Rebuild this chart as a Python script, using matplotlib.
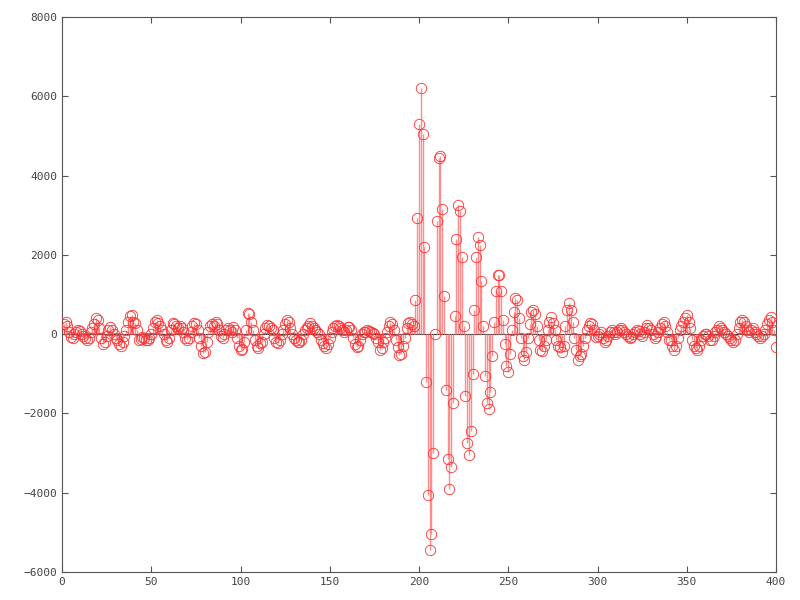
import numpy as np
import matplotlib
matplotlib.use('Agg')
import matplotlib.pyplot as plt

# sample values (index 1..400)
values = [
    250, 300, 200, 50, -80, -100, 0, 50, 100, 80,
    0, -50, -100, -150, -100, 50, 150, 250, 400, 350,
    150, -100, -250, -200, -50, 100, 180, 100, 0, -100,
    -150, -250, -300, -200, -50, 100, 300, 450, 480, 300,
    270, 100, -150, -120, -80, -100, -150, -150, -100, 0,
    150, 300, 350, 280, 200, 100, 0, -150, -200, -100,
    100, 270, 250, 200, 150, 200, 150, 50, -100, -150,
    -100, 50, 200, 270, 250, 100, -100, -300, -480, -450,
    -200, 50, 200, 250, 200, 300, 250, 100, -50, -100,
    0, 100, 150, 100, 50, 180, 100, -100, -300, -400,
    -380, -200, 100, 530, 500, 310, 100, -150, -300, -350,
    -230, -200, 0, 150, 230, 200, 150, 100, -100, -200,
    -230, -150, 0, 100, 250, 350, 300, 150, 0, -100,
    -150, -200, -200, -150, 0, 100, 150, 200, 270, 200,
    150, 100, 50, 0, -150, -230, -300, -350, -250, -100,
    50, 150, 200, 230, 200, 150, 100, 50, 100, 180,
    180, 100, -100, -250, -320, -300, -150, 0, 50, 60,
    100, 80, 50, 20, 0, -100, -200, -400, -350, -200,
    -100, 50, 200, 310, 250, 100, -150, -330, -530, -500,
    -300, -100, 150, 275, 300, 250, 200, 850, 2930, 5290,
    6200, 5040, 2200, -1200, -4050, -5450, -5050, -3000, 0, 2850,
    4450, 4500, 3150, 950, -1400, -3150, -3900, -3350, -1750, 450,
    2400, 3250, 3100, 1950, 200, -1550, -2750, -3050, -2450, -1000,
    600, 1950, 2450, 2250, 1350, 200, -1050, -1750, -1900, -1450,
    -550, 300, 1100, 1500, 1500, 1100, 350, -250, -800, -950,
    -500, 100, 550, 900, 850, 400, -100, -550, -650, -450,
    -100, 250, 550, 600, 500, 200, -150, -400, -430, -300,
    -150, 100, 300, 440, 270, 100, -150, -300, -320, -440,
    -300, 200, 600, 780, 600, 300, -100, -400, -650, -550,
    -500, -300, -100, 100, 200, 270, 250, 100, -70, -40,
    0, 50, -100, -200, -150, -50, 50, 100, 50, 0,
    50, 100, 150, 100, 50, 0, -50, -100, -80, 0,
    50, 100, 80, 0, -50, 50, 150, 230, 150, 100,
    0, -100, -50, 50, 150, 250, 310, 200, 50, -150,
    -150, -300, -400, -300, -100, 100, 200, 300, 400, 480,
    300, 150, -150, -300, -350, -400, -300, -150, -50, 0,
    0, -50, -150, -150, -50, 50, 100, 200, 150, 100,
    50, 0, -50, -100, -150, -200, -150, 0, 150, 300,
    350, 300, 200, 100, 50, 100, 150, 50, 0, -50,
    -100, -50, 0, 100, 250, 350, 440, 300, 100, -320,
]
x = np.arange(1, len(values) + 1)

xticks = [0, 50, 100, 150, 200, 250, 300, 350, 400]
yticks = [-6000, -4000, -2000, 0, 2000, 4000, 6000, 8000]

fig = plt.figure(figsize=(8, 6), dpi=100)
ax = fig.add_axes([0.0775, 0.0467, 0.8925, 0.925])

# zero line under everything
ax.axhline(0, color='#333333', linewidth=0.8, zorder=1)

markerline, stemlines, baseline = ax.stem(x, values, linefmt='-', markerfmt='o', basefmt=' ')
stemlines.set_color('#ff8c8c')
stemlines.set_linewidth(1.0)
stemlines.set_zorder(2)
markerline.set_markersize(7.5)
markerline.set_markerfacecolor('none')
markerline.set_markeredgecolor('#ff3030')
markerline.set_markeredgewidth(0.6)
markerline.set_zorder(3)

ax.set_xlim(0, 400)
ax.set_ylim(-6000, 8000)
ax.set_xticks(xticks)
ax.set_yticks(yticks)

for s in ax.spines.values():
    s.set_color('#555555')
    s.set_linewidth(0.8)
ax.tick_params(direction='in', length=4, width=0.8, color='#555555',
               top=True, right=True, labelsize=8, labelcolor='#444444')
for lab in ax.get_xticklabels() + ax.get_yticklabels():
    lab.set_family('DejaVu Sans Mono')

fig.savefig('out.png', dpi=100)
